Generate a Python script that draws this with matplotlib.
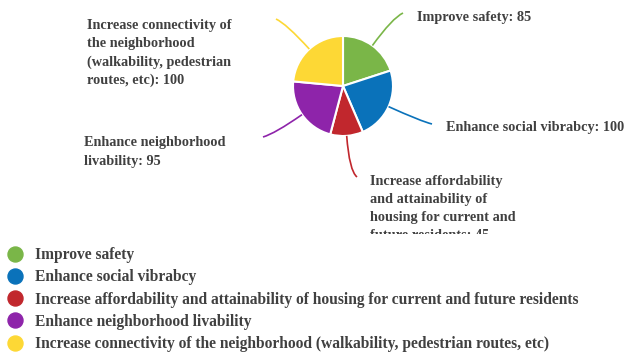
import numpy as np
import matplotlib
matplotlib.use("Agg")
import matplotlib.pyplot as plt
from matplotlib.path import Path
from matplotlib.patches import PathPatch
from matplotlib.lines import Line2D

categories = [
    "Improve safety",
    "Enhance social vibrabcy",
    "Increase affordability and attainability of housing for current and future residents",
    "Enhance neighborhood livability",
    "Increase connectivity of the neighborhood (walkability, pedestrian routes, etc)",
]
values = [85, 100, 45, 95, 100]
colors = ["#7ab648", "#0a72ba", "#c1272d", "#8e24aa", "#fdd835"]
slice_labels = [
    "Improve safety: 85",
    "Enhance social vibrabcy: 100",
    "Increase affordability\nand attainability of\nhousing for current and\nfuture residents: 45",
    "Enhance neighborhood\nlivability: 95",
    "Increase connectivity of\nthe neighborhood\n(walkability, pedestrian\nroutes, etc): 100",
]

W, H = 625, 354
TOP_H = 234
TXT = "#404040"
FONT = "Liberation Serif"

fig = plt.figure(figsize=(W / 100, H / 100), dpi=100)
ax = fig.add_axes([0, 1 - TOP_H / H, 1, TOP_H / H])

cx, cy, r = 343, TOP_H - 86, 50
wedges, _ = ax.pie(values, colors=colors, startangle=90, counterclock=False,
                   center=(cx, cy), radius=r,
                   wedgeprops=dict(edgecolor="white", linewidth=1.5))
ax.set_xlim(0, W)
ax.set_ylim(0, TOP_H)
ax.set_aspect("equal")
ax.axis("off")

# (leader end x, leader end y [px from top], text x, text top y [px from top])
anchors = [
    (403, 13, 417, 10.6),
    (432, 124, 446, 120.6),
    (357, 177, 370, 174.6),
    (263, 137, 84, 136.3),
    (276, 19, 87, 18.6),
]

for w, col, lab, (ex, ey, tx, ty) in zip(wedges, colors, slice_labels, anchors):
    ang = np.deg2rad((w.theta1 + w.theta2) / 2)
    dx, dy = np.cos(ang), np.sin(ang)
    sx, sy = cx + r * dx, cy + r * dy
    eyd = TOP_H - ey
    t = max((eyd - sy) / dy, 5) * 0.85
    qx, qy = sx + t * dx, sy + t * dy
    path = Path([(sx, sy), (qx, qy), (ex, eyd)],
                [Path.MOVETO, Path.CURVE3, Path.CURVE3])
    ax.add_patch(PathPatch(path, facecolor="none", edgecolor=col, linewidth=1.2))
    ax.text(tx, TOP_H - ty, lab, ha="left", va="top", fontsize=10.25,
            fontweight="bold", family=FONT, color=TXT, linespacing=1.52,
            clip_on=True)

handles = [Line2D([], [], marker="o", linestyle="", markersize=10.8,
                  markerfacecolor=c, markeredgecolor=c) for c in colors]
leg = fig.legend(handles, categories, loc="upper left",
                 bbox_to_anchor=(0.0, 1 - 244 / H), frameon=False,
                 prop=dict(family=FONT, weight="bold", size=11.2),
                 labelspacing=0.4, handletextpad=0.5, handlelength=1.53,
                 borderpad=0.2, borderaxespad=0.0)
for t in leg.get_texts():
    t.set_color(TXT)

fig.savefig("out.png", dpi=100)
